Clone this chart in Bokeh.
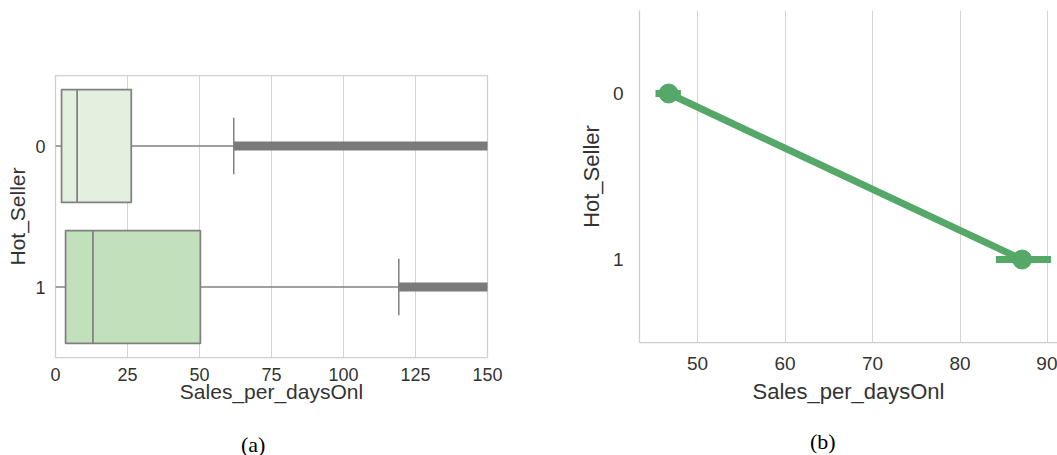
from bokeh.plotting import figure
from bokeh.layouts import row, column
from bokeh.models import Range1d, FixedTicker, Div
from bokeh.embed import file_html
from bokeh.resources import INLINE

# ---------------- data ----------------
categories = [0, 1]
category_labels = ["0", "1"]

# panel (a): box plot of Sales_per_daysOnl by Hot_Seller
box_q1 = [2.1, 3.5]
box_median = [7.5, 13.0]
box_q3 = [26.3, 50.3]
whisker_lo = [0.0, 0.0]
whisker_hi = [61.9, 119.2]
flier_max = [400.0, 400.0]   # outliers continue far beyond the visible axis
box_colors = ["#e4f0df", "#c2e0bc"]
x_ticks_a = [0, 25, 50, 75, 100, 125, 150]

# panel (b): point plot (mean with confidence interval)
point_means = [46.7, 87.1]
ci_lo = [45.2, 84.1]
ci_hi = [48.1, 90.4]
x_ticks_b = [50, 60, 70, 80, 90]

captions = ["(a)", "(b)"]

GRAY = "#808080"
GREEN = "#55a868"
TEXT = "#333333"
GRID = "#d4d4d4"
SANS = "Liberation Sans"
SERIF = "Liberation Serif"


def style_axes(p, tick_size, label_size):
    for ax in (p.xaxis, p.yaxis):
        ax.major_tick_line_color = None
        ax.minor_tick_line_color = None
        ax.major_tick_out = 0
        ax.major_tick_in = 0
        ax.minor_tick_out = 0
        ax.minor_tick_in = 0
        ax.major_label_text_font = SANS
        ax.major_label_text_font_size = tick_size
        ax.major_label_text_color = TEXT
        ax.axis_label_text_font = SANS
        ax.axis_label_text_font_size = label_size
        ax.axis_label_text_font_style = "normal"
        ax.axis_label_text_color = TEXT
    p.ygrid.visible = False
    p.xgrid.grid_line_color = GRID
    p.xgrid.grid_line_width = 1
    p.background_fill_color = "white"
    p.border_fill_color = "white"


def caption_div(text, width, left, top):
    return Div(text=text, width=width, height=35,
               styles={"font-family": SERIF, "font-size": "22px",
                       "line-height": "22px", "color": "#000000",
                       "padding-left": f"{left}px", "padding-top": f"{top}px",
                       "box-sizing": "border-box", "margin": "0px"})


# ---------------- panel (a) ----------------
pa = figure(width=520, height=420, min_border_left=55, min_border_right=33,
            min_border_top=75, min_border_bottom=63, frame_align=False,
            x_range=Range1d(0, 150), y_range=Range1d(1.5, -0.5),
            output_backend="svg", toolbar_location=None)
style_axes(pa, "18px", "21px")
pa.xaxis.ticker = FixedTicker(ticks=x_ticks_a)
pa.xgrid.ticker = FixedTicker(ticks=x_ticks_a)
pa.yaxis.ticker = FixedTicker(ticks=categories)
pa.yaxis.major_label_overrides = {c: l for c, l in zip(categories, category_labels)}
pa.xaxis.axis_line_color = None
pa.yaxis.axis_line_color = None
pa.outline_line_color = "#cfcfcf"
pa.outline_line_width = 1.25
pa.xaxis.axis_label = "Sales_per_daysOnl"
pa.yaxis.axis_label = "Hot_Seller"
pa.xaxis.major_label_standoff = 10
pa.yaxis.major_label_standoff = 10
pa.xaxis.axis_label_standoff = -4
pa.yaxis.axis_label_standoff = 3

box_half = 0.4
cap_half = 0.2
# whiskers
pa.segment(x0=box_q1, y0=categories, x1=whisker_lo, y1=categories,
           line_color=GRAY, line_width=1.5)
pa.segment(x0=box_q3, y0=categories, x1=whisker_hi, y1=categories,
           line_color=GRAY, line_width=1.5)
# fliers (dense, overplotted)
pa.segment(x0=whisker_hi, y0=categories, x1=flier_max, y1=categories,
           line_color="#7a7a7a", line_width=9, line_cap="butt")
# caps
pa.segment(x0=whisker_hi, y0=[c - cap_half for c in categories],
           x1=whisker_hi, y1=[c + cap_half for c in categories],
           line_color=GRAY, line_width=1.5)
# boxes
pa.hbar(y=categories, left=box_q1, right=box_q3, height=2 * box_half,
        fill_color=box_colors, line_color=GRAY, line_width=1.75)
# medians
pa.segment(x0=box_median, y0=[c - box_half for c in categories],
           x1=box_median, y1=[c + box_half for c in categories],
           line_color=GRAY, line_width=1.75)

# ---------------- panel (b) ----------------
pb = figure(width=537, height=420, min_border_left=119, min_border_right=0,
            min_border_top=10, min_border_bottom=78, frame_align=False,
            x_range=Range1d(43.37, 91.14), y_range=Range1d(1.5, -0.5),
            output_backend="svg", toolbar_location=None)
style_axes(pb, "19px", "22px")
pb.xaxis.ticker = FixedTicker(ticks=x_ticks_b)
pb.xgrid.ticker = FixedTicker(ticks=x_ticks_b)
pb.yaxis.ticker = FixedTicker(ticks=categories)
pb.yaxis.major_label_overrides = {c: l for c, l in zip(categories, category_labels)}
pb.xaxis.axis_line_color = "#cccccc"
pb.yaxis.axis_line_color = "#cccccc"
pb.xaxis.axis_line_width = 1.25
pb.yaxis.axis_line_width = 1.25
pb.outline_line_color = None
pb.xaxis.axis_label = "Sales_per_daysOnl"
pb.yaxis.axis_label = "Hot_Seller"
pb.xaxis.major_label_standoff = 14
pb.yaxis.major_label_standoff = 16
pb.xaxis.axis_label_standoff = 6
pb.yaxis.axis_label_standoff = 6

pb.line(x=point_means, y=categories, line_color=GREEN, line_width=7)
pb.segment(x0=ci_lo, y0=categories, x1=ci_hi, y1=categories,
           line_color=GREEN, line_width=7)
pb.scatter(x=point_means, y=categories, size=19, fill_color=GREEN,
           line_color=GREEN)

cap_a = caption_div(captions[0], 520, 241, 14)
cap_b = caption_div(captions[1], 537, 290, 11)

layout = row(column(pa, cap_a, spacing=0), column(pb, cap_b, spacing=0), spacing=0)
open("out.html", "w").write(file_html(layout, INLINE))
